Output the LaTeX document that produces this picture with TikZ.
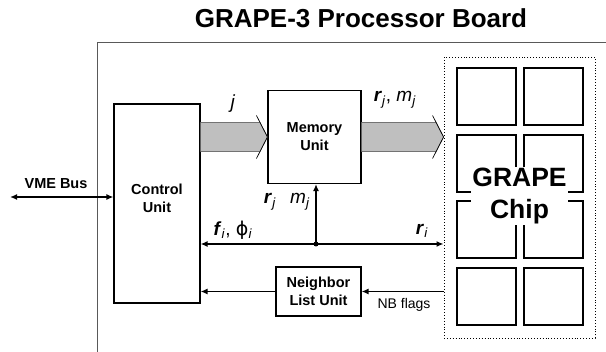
\documentclass[tikz,border=0pt]{standalone}
\usepackage{amsmath}
\usepackage{fontspec}
\setmainfont{Liberation Sans}
\newfontfamily\phifont{DejaVu Sans}
\usetikzlibrary{arrows.meta,calc}

\newcommand{\bandarrow}[2]{%
  \path[band] ($(#1)+(0,-14.5)$) -- ($(#2)+(-7.4,-14.5)$) -- (#2) -- ($(#2)+(-7.4,14.5)$) -- ($(#1)+(0,14.5)$) -- cycle;
  \draw[line width=0.7pt] ($(#2)+(-11,-21.5)$) -- (#2) -- ($(#2)+(-11,21.5)$);}

\begin{document}
\begin{tikzpicture}[x=1pt,y=-1pt,>={Latex[length=7pt,width=6pt]},
    unit/.style={draw,line width=1.1pt,fill=white,align=center,inner sep=0pt,font=\fontsize{14.5}{18}\selectfont\bfseries},
    unittext/.style={align=center,font=\fontsize{14.5}{18}\selectfont\bfseries},
    lbl/.style={inner sep=1pt,font=\fontsize{19}{22}\selectfont},
    arr/.style={line width=1.4pt},
    band/.style={fill=gray!50,draw=black!55,line width=0.6pt}]
				\useasboundingbox (0,0) rectangle (606,352);
				
				\node[font=\fontsize{26}{30}\selectfont\bfseries] (title) at (361,18) {GRAPE-3 Processor Board};
				\draw[line width=1pt,black!65] (97,352) -- (97,43) -- (606,43);
				
				\node[unit,minimum width=86pt,minimum height=199pt] (ctrl) at (157,203.5) {};
				\node[unittext] (ctrltext) at (157,198) {Control\\Unit};
				\node[unit,minimum width=93pt,minimum height=93pt] (mem) at (314.5,137) {Memory\\Unit};
				\node[unit,minimum width=85pt,minimum height=49pt] (nl) at (318.5,291.5) {Neighbor\\List Unit};
				\node[draw,dotted,line width=0.9pt,minimum width=151pt,minimum height=281pt] (chips) at (519.5,197.5) {};
				
				% chips
				\foreach \c in {0,1}
				  \foreach \r in {0,...,3}
				    \draw[line width=2pt] ({457+67*\c},{68+66.67*\r}) rectangle +(59,57);
				\node[fill=white,inner sep=1pt,align=center,font=\fontsize{26.5}{32}\selectfont\bfseries] (chiplabel) at (519.5,196.3) {GRAPE\\Chip};
				
				% j / r_j, m_j buses
				\coordinate (b1s) at (ctrl.east |- mem.west);
				\coordinate (b2t) at (chips.west |- mem.east);
				\bandarrow{b1s}{mem.west}
				\bandarrow{mem.east}{b2t}
				\node[lbl] (jlbl) at (233,104) {\textit{j}};
				\node[lbl] (rmlbl) at (395,100) {\textbf{\textit{r}}\textsubscript{\textit{j}}, \textit{m}\textsubscript{\textit{j}}};
				
				% i-particle bus
				\coordinate (jn) at (316,244);
				\draw[arr,<->] (ctrl.east |- jn) -- (chips.west |- jn);
				\fill (jn) circle (2.5pt);
				\draw[arr,->] (jn) -- (jn |- mem.south);
				\node[lbl] (filbl) at (233,230) {\textbf{\textit{f}}\textsubscript{\textit{i}}, {\phifont ϕ}\textsubscript{\textit{i}}};
				\node[lbl] (rjlbl) at (270,202) {\textbf{\textit{r}}\textsubscript{\textit{j}}};
				\node[lbl] (mjlbl) at (300,202) {\textit{m}\textsubscript{\textit{j}}};
				\node[lbl] (rilbl) at (422,231) {\textbf{\textit{r}}\textsubscript{\textit{i}}};
				
				% neighbor flags
				\draw[arr,->] (chips.west |- nl.east) -- (nl.east);
				\draw[arr,->] (nl.west) -- (ctrl.east |- nl.west);
				\node[font=\fontsize{14}{17}\selectfont] (nblbl) at (404,305) {NB flags};
				
				% VME
				\coordinate (vme) at (10,197);
				\draw[arr,<->] (vme) -- (ctrl.west |- vme);
				\node[unittext] (vmelbl) at (56,184) {VME Bus};
			\end{tikzpicture}
\end{document}
